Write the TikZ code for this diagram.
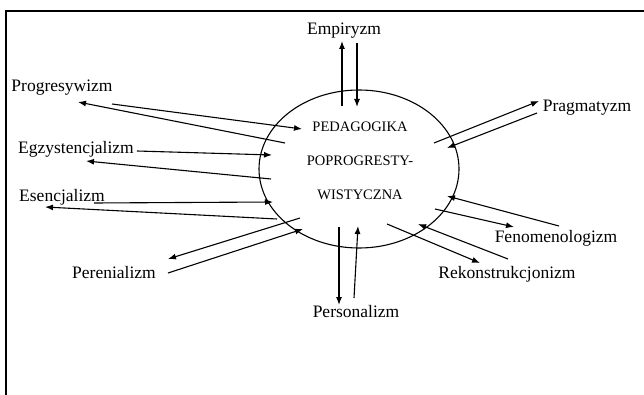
\documentclass[tikz,border=0pt]{standalone}
\usepackage{fontspec}
\setmainfont{Liberation Serif}
\usetikzlibrary{arrows.meta,shapes.geometric,calc}
\tikzset{
  phil/.style    = {inner sep=1pt, font=\fontsize{17.5}{20}\selectfont},
  core/.style    = {ellipse, draw, line width=1.1pt, minimum width=200pt,
                    minimum height=158pt, inner sep=0pt},
  coretxt/.style = {align=center, font=\fontsize{14.5}{34}\selectfont},
  fl/.style      = {-{Latex[length=8pt,width=6pt]}, line width=1.1pt},
  frame/.style   = {line width=2pt},
}

\begin{document}
\begin{tikzpicture}[x=1pt,y=-1pt]
  \useasboundingbox (0,0) rectangle (644,395);
  % ramka
  \draw[frame] (6,395) -- (6,11) -- (644,11);
  % centrum
  \node[core] (ped) at (359,169) {};
  \node[coretxt] (pedtxt) at (360,161) {PEDAGOGIKA\\POPROGRESTY-\\WISTYCZNA};
  % kierunki
  \node[phil] (emp)  at (344,31)  {Empiryzm};
  \node[phil] (prog) at (62,88)   {Progresywizm};
  \node[phil] (prag) at (587,108) {Pragmatyzm};
  \node[phil] (egz)  at (76,149)  {Egzystencjalizm};
  \node[phil] (esen) at (62,197)  {Esencjalizm};
  \node[phil] (fen)  at (556,238) {Fenomenologizm};
  \node[phil] (per)  at (114,273) {Perenializm};
  \node[phil] (rek)  at (507,274) {Rekonstrukcjonizm};
  \node[phil] (pers) at (356,312) {Personalizm};
  % pary strzałek
  \draw[fl] ($(ped)+(-17,-63)$) -- ($(emp)+(-2,10)$);
  \draw[fl] ($(emp)+(13,12)$) -- ($(ped)+(-2,-62)$);
  \draw[fl] ($(ped)+(-74,-26)$) -- ($(prog)+(16,14)$);
  \draw[fl] ($(prog)+(50,16)$) -- ($(ped)+(-57,-40)$);
  \draw[fl] ($(egz)+(61,2)$) -- ($(ped)+(-87,-14)$);
  \draw[fl] ($(ped)+(-88,10)$) -- ($(egz)+(10,12)$);
  \draw[fl] ($(esen)+(32,6)$) -- ($(ped)+(-86,33)$);
  \draw[fl] ($(ped)+(-82,50)$) -- ($(esen)+(-17,10)$);
  \draw[fl] ($(ped)+(75,-26)$) -- ($(prag)+(-48,-7)$);
  \draw[fl] ($(prag)+(-50,5)$) -- ($(ped)+(88,-21)$);
  \draw[fl] ($(ped)+(76,40)$) -- ($(fen)+(-42,-11)$);
  \draw[fl] ($(fen)+(3,-12)$) -- ($(ped)+(88,27)$);
  \draw[fl] ($(ped)+(28,55)$) -- ($(rek)+(-27,-11)$);
  \draw[fl] ($(rek)+(1,-15)$) -- ($(ped)+(59,55)$);
  \draw[fl] ($(ped)+(-59,49)$) -- ($(per)+(54,-14)$);
  \draw[fl] ($(per)+(54,0)$) -- ($(ped)+(-56,60)$);
  \draw[fl] ($(ped)+(-20,58)$) -- ($(pers)+(-17,-7)$);
  \draw[fl] ($(pers)+(-2,-14)$) -- ($(ped)+(-1,57)$);
\end{tikzpicture}
\end{document}
